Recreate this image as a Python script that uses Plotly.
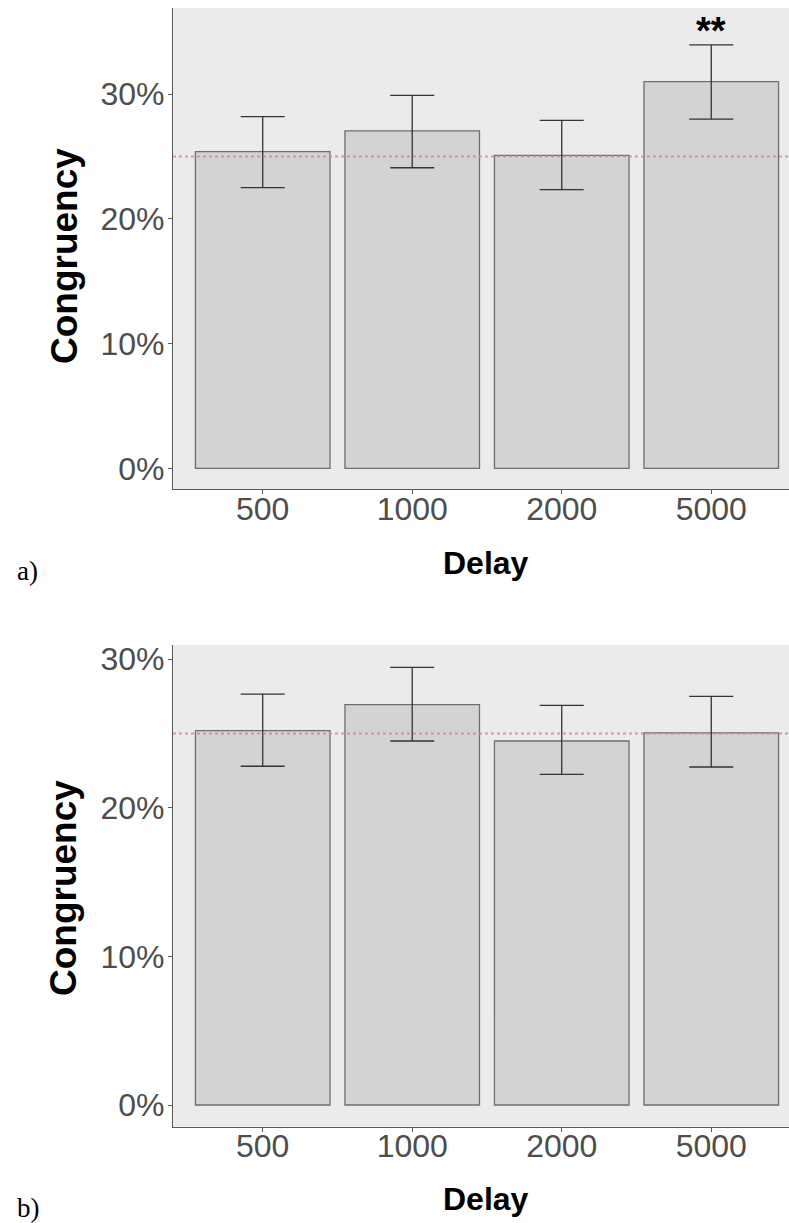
import plotly.graph_objects as go

# Delay conditions (ms)
delays = ["500", "1000", "2000", "5000"]

# Panel a: mean congruency (%) with error bar limits
a_mean = [25.4, 27.05, 25.1, 31.0]
a_upper = [28.2, 29.9, 27.9, 33.95]
a_lower = [22.5, 24.1, 22.35, 28.0]

# Panel b: mean congruency (%) with error bar limits
b_mean = [25.2, 26.95, 24.5, 25.05]
b_upper = [27.65, 29.45, 26.9, 27.5]
b_lower = [22.8, 24.5, 22.25, 22.75]

chance_level = 25
y_ticks = [0, 10, 20, 30]
y_tick_text = ["0%", "10%", "20%", "30%"]
sig_label = "**"
sig_index = 3

W, H = 789, 1223
SANS = "Liberation Sans, Arial, sans-serif"
SERIF = "Liberation Serif, Times New Roman, serif"

BAR_FILL = "#D3D3D3"
BAR_EDGE = "#6E6E6E"
ERR_COLOR = "#333333"
AXIS_COLOR = "#5A5A5A"
TICK_TEXT = "#4D4D4D"


def px_x(p):
    return p / W


def px_y(p):
    return 1 - p / H


def bar_trace(means, upper, lower, xa, ya):
    return go.Bar(
        x=delays,
        y=means,
        xaxis=xa,
        yaxis=ya,
        width=0.9,
        marker=dict(color=BAR_FILL, line=dict(color=BAR_EDGE, width=1.3)),
        error_y=dict(
            type="data",
            symmetric=False,
            array=[u - m for u, m in zip(upper, means)],
            arrayminus=[m - l for m, l in zip(means, lower)],
            color=ERR_COLOR,
            thickness=1.3,
            width=22,
        ),
        showlegend=False,
        hoverinfo="skip",
    )


fig = go.Figure()
fig.add_trace(bar_trace(a_mean, a_upper, a_lower, "x", "y"))
fig.add_trace(bar_trace(b_mean, b_upper, b_lower, "x2", "y2"))

x_common = dict(
    type="category",
    range=[-0.6, 3.52],
    domain=[px_x(173), 1],
    showgrid=False,
    zeroline=False,
    showline=True,
    linecolor=AXIS_COLOR,
    linewidth=1.3,
    ticks="outside",
    ticklen=4,
    tickwidth=1,
    tickcolor=AXIS_COLOR,
    tickfont=dict(family=SANS, size=32, color=TICK_TEXT),
    ticklabelstandoff=-13,
    automargin=False,
)
y_common = dict(
    tickmode="array",
    tickvals=y_ticks,
    ticktext=y_tick_text,
    showgrid=False,
    zeroline=False,
    showline=True,
    linecolor=AXIS_COLOR,
    linewidth=1.3,
    ticks="outside",
    ticklen=4,
    tickwidth=1,
    tickcolor=AXIS_COLOR,
    tickfont=dict(family=SANS, size=32, color=TICK_TEXT),
    ticklabelstandoff=-3,
    automargin=False,
)

fig.update_layout(
    width=W,
    height=H,
    margin=dict(l=0, r=0, t=0, b=0),
    paper_bgcolor="white",
    plot_bgcolor="#EBEBEB",
    xaxis=dict(x_common, anchor="y"),
    yaxis=dict(y_common, anchor="x", domain=[px_y(489), px_y(8)], range=[-1.66, 36.91]),
    xaxis2=dict(x_common, anchor="y2"),
    yaxis2=dict(y_common, anchor="x2", domain=[px_y(1126.7), px_y(645)], range=[-1.46, 30.96]),
    bargap=0.1,
)

# chance-level reference lines
for xr, yr in (("x domain", "y"), ("x2 domain", "y2")):
    fig.add_shape(
        type="line", xref=xr, yref=yr, x0=0, x1=1, y0=chance_level, y1=chance_level,
        line=dict(color="rgba(240,120,120,0.8)", width=2, dash="dot"),
    )

# significance marker above the 5000 ms bar
fig.add_annotation(
    x=sig_index, y=a_upper[sig_index], xref="x", yref="y",
    text=f"<b>{sig_label}</b>", showarrow=False, yanchor="bottom", yshift=-9,
    font=dict(family=SANS, size=38, color="black"),
)

# axis titles and panel letters
for yc, xc in ((256, 562.5), (888, 1199)):
    fig.add_annotation(
        x=px_x(64), y=px_y(yc), xref="paper", yref="paper", text="<b>Congruency</b>",
        textangle=-90, showarrow=False, xanchor="center", yanchor="middle",
        font=dict(family=SANS, size=37, color="black"),
    )
    fig.add_annotation(
        x=px_x(486), y=px_y(xc), xref="paper", yref="paper", text="<b>Delay</b>",
        showarrow=False, xanchor="center", yanchor="middle",
        font=dict(family=SANS, size=32, color="black"),
    )

for label, yc in (("a)", 570.8), ("b)", 1208)):
    fig.add_annotation(
        x=px_x(15), y=px_y(yc), xref="paper", yref="paper", text=label,
        showarrow=False, xanchor="left", yanchor="middle",
        font=dict(family=SERIF, size=27, color="black"),
    )

fig.write_html("out.html")
